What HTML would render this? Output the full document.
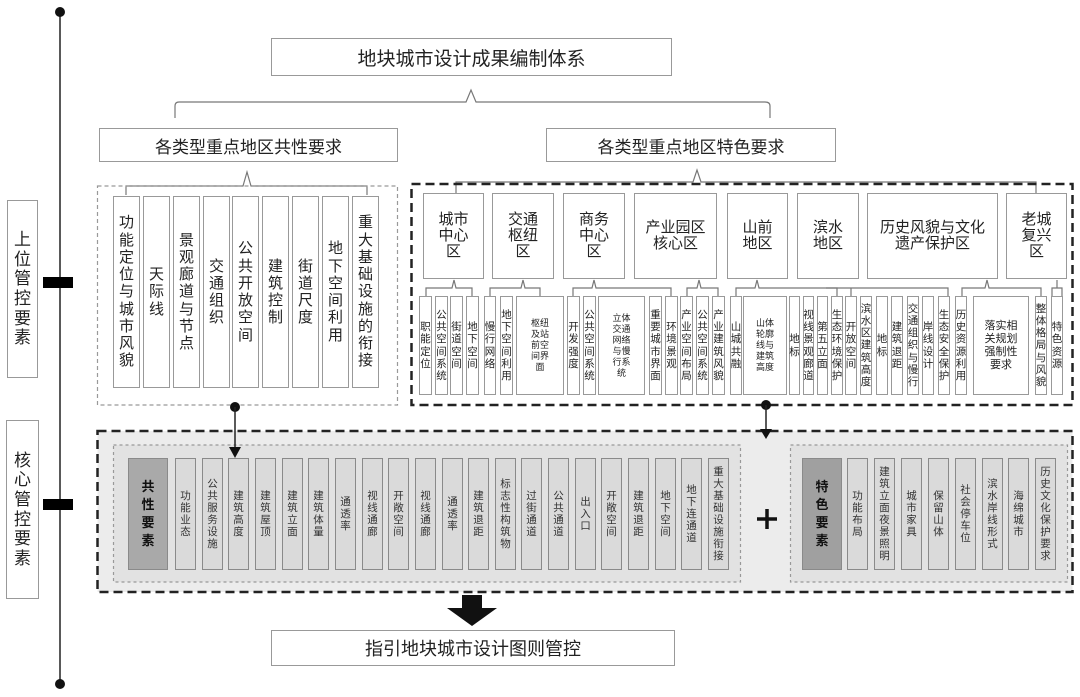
<!DOCTYPE html>
<html><head><meta charset="utf-8"><style>
body{margin:0;width:1080px;height:697px;background:#fff;position:relative;overflow:hidden;font-family:"Liberation Sans","Noto Sans CJK SC",sans-serif;color:#222}
.b{position:absolute;box-sizing:border-box;border:1.5px solid #999;background:#fff;display:flex;align-items:center;justify-content:center;text-align:center}
.v span{display:block;width:1em;word-break:break-all;line-height:1.15;white-space:normal}
.c{font-size:15px;line-height:16px}
.s{font-size:10.5px;line-height:12px;border-width:1px}
.k{font-size:10.5px;background:#dadada;border:1.5px solid #8a8a8a;top:458px;height:112px;width:21px;color:#333}
.h{font-size:9px;line-height:11px}
</style></head><body>
<svg width="1080" height="697" style="position:absolute;left:0;top:0" fill="none" stroke="#777" stroke-width="1.2">
<line x1="60" y1="12" x2="60" y2="684" stroke="#222" stroke-width="1.5"/>
<circle cx="60" cy="12" r="5" fill="#111" stroke="none"/>
<circle cx="60" cy="684" r="5" fill="#111" stroke="none"/>
<rect x="43" y="277" width="30" height="11" fill="#000" stroke="none"/>
<rect x="43" y="499" width="30" height="11" fill="#000" stroke="none"/>
<path d="M175,118 V106 Q175,102 179,102 H466 L471,90 L476,102 H765 Q770,102 770,106 V118"/>
<path d="M126,195 V186 H243 L247,172 L251,186 H367 V195"/>
<path d="M456,193 V182 H693 L697,170 L701,182 H1036 V193"/>
<path d="M426,296 V288 H452 L454,280 L456,288 H472 V296"/>
<path d="M490,296 V288 H521 L523,280 L525,288 H540 V296"/>
<path d="M573,296 V288 H592 L594,280 L596,288 H671 V296"/>
<path d="M687,296 V288 H697 L699,280 L701,288 H718 V296"/>
<path d="M736,296 V288 H755 L757,280 L759,288 H837 V296"/>
<path d="M851,296 V288 H826 M851,288 H948 V296 M851,288 L853,288"/>
<path d="M962,296 V288 H985 L987,280 L989,288 H1041 V296"/>
<path d="M1052,296 V288 H1062 V296 M1057,288 V280"/>
<rect x="97.5" y="186" width="300" height="219" stroke="#999" stroke-dasharray="4,3"/>
<rect x="411.5" y="184" width="661" height="221" stroke="#222" stroke-width="2.5" stroke-dasharray="9,5"/>
<rect x="97.5" y="431" width="975" height="161" fill="#ececec" stroke="#222" stroke-width="2.5" stroke-dasharray="9,5"/>
<rect x="113.5" y="445" width="627" height="137" fill="#e2e2e2" stroke="#999" stroke-dasharray="3,3"/>
<rect x="790.5" y="445" width="277" height="137" fill="#e2e2e2" stroke="#999" stroke-dasharray="3,3"/>
<circle cx="235" cy="407" r="5" fill="#111" stroke="none"/>
<line x1="235" y1="407" x2="235" y2="448" stroke="#222" stroke-width="1.5"/>
<polygon points="229,447 241,447 235,458" fill="#111" stroke="none"/>
<circle cx="766" cy="405" r="5" fill="#111" stroke="none"/>
<line x1="766" y1="405" x2="766" y2="430" stroke="#222" stroke-width="1.5"/>
<polygon points="760,429 772,429 766,439" fill="#111" stroke="none"/>
<polygon points="462,595 482,595 482,608 497,608 472,626 447,608 462,608" fill="#111" stroke="none"/>
<path d="M767,509 V529 M757,519 H777" stroke="#111" stroke-width="3.5"/>
</svg>

<div class="b v c" style="left:7px;top:200px;width:31px;height:178px;font-size:17px"><span>上位管控要素</span></div>
<div class="b v c" style="left:6px;top:420px;width:33px;height:179px;font-size:17px"><span>核心管控要素</span></div>

<div class="b" style="left:271px;top:38px;width:401px;height:38px;font-size:19px">地块城市设计成果编制体系</div>
<div class="b" style="left:99px;top:128px;width:299px;height:34px;font-size:17px">各类型重点地区共性要求</div>
<div class="b" style="left:546px;top:128px;width:290px;height:34px;font-size:17px">各类型重点地区特色要求</div>
<div class="b" style="left:271px;top:630px;width:404px;height:36px;font-size:18px">指引地块城市设计图则管控</div>

<div class="b v c" style="left:113px;top:196px;width:27px;height:192px"><span>功能定位与城市风貌</span></div>
<div class="b v c" style="left:143px;top:196px;width:27px;height:192px"><span>天际线</span></div>
<div class="b v c" style="left:173px;top:196px;width:27px;height:192px"><span>景观廊道与节点</span></div>
<div class="b v c" style="left:203px;top:196px;width:27px;height:192px"><span>交通组织</span></div>
<div class="b v c" style="left:232px;top:196px;width:27px;height:192px"><span>公共开放空间</span></div>
<div class="b v c" style="left:262px;top:196px;width:27px;height:192px"><span>建筑控制</span></div>
<div class="b v c" style="left:292px;top:196px;width:27px;height:192px"><span>街道尺度</span></div>
<div class="b v c" style="left:322px;top:196px;width:27px;height:192px"><span>地下空间利用</span></div>
<div class="b v c" style="left:352px;top:196px;width:27px;height:192px"><span>重大基础设施的衔接</span></div>

<div class="b c" style="left:423px;top:193px;width:61px;height:86px">城市<br>中心<br>区</div>
<div class="b c" style="left:492px;top:193px;width:62px;height:86px">交通<br>枢纽<br>区</div>
<div class="b c" style="left:563px;top:193px;width:62px;height:86px">商务<br>中心<br>区</div>
<div class="b c" style="left:634px;top:193px;width:83px;height:86px">产业园区<br>核心区</div>
<div class="b c" style="left:727px;top:193px;width:61px;height:86px">山前<br>地区</div>
<div class="b c" style="left:797px;top:193px;width:62px;height:86px">滨水<br>地区</div>
<div class="b c" style="left:867px;top:193px;width:131px;height:86px">历史风貌与文化<br>遗产保护区</div>
<div class="b c" style="left:1006px;top:193px;width:61px;height:86px">老城<br>复兴<br>区</div>

<div class="b v s" style="left:419px;top:296px;width:13px;height:99px"><span>职能定位</span></div>
<div class="b v s" style="left:435px;top:296px;width:13px;height:99px"><span>公共空间系统</span></div>
<div class="b v s" style="left:450px;top:296px;width:13px;height:99px"><span>街道空间</span></div>
<div class="b v s" style="left:466px;top:296px;width:13px;height:99px"><span>地下空间</span></div>
<div class="b v s" style="left:484px;top:296px;width:12px;height:99px"><span>慢行网络</span></div>
<div class="b v s" style="left:500px;top:296px;width:13px;height:99px"><span>地下空间利用</span></div>
<div class="b s h" style="left:516px;top:296px;width:48px;height:99px">枢纽<br>及站<br>前空<br>间界<br>面</div>
<div class="b v s" style="left:567px;top:296px;width:13px;height:99px"><span>开发强度</span></div>
<div class="b v s" style="left:583px;top:296px;width:13px;height:99px"><span>公共空间系统</span></div>
<div class="b s h" style="left:598px;top:296px;width:47px;height:99px">立体<br>交通<br>网络<br>与慢<br>行系<br>统</div>
<div class="b v s" style="left:649px;top:296px;width:13px;height:99px"><span>重要城市界面</span></div>
<div class="b v s" style="left:665px;top:296px;width:13px;height:99px"><span>环境景观</span></div>
<div class="b v s" style="left:680px;top:296px;width:13px;height:99px"><span>产业空间布局</span></div>
<div class="b v s" style="left:696px;top:296px;width:13px;height:99px"><span>公共空间系统</span></div>
<div class="b v s" style="left:712px;top:296px;width:13px;height:99px"><span>产业建筑风貌</span></div>
<div class="b v s" style="left:730px;top:296px;width:12px;height:99px"><span>山城共融</span></div>
<div class="b s h" style="left:743px;top:296px;width:44px;height:99px">山体<br>轮廓<br>线与<br>建筑<br>高度</div>
<div class="b v s" style="left:789px;top:296px;width:11px;height:99px"><span>地标</span></div>
<div class="b v s" style="left:803px;top:296px;width:11px;height:99px"><span>视线景观廊道</span></div>
<div class="b v s" style="left:817px;top:296px;width:11px;height:99px"><span>第五立面</span></div>
<div class="b v s" style="left:831px;top:296px;width:12px;height:99px"><span>生态环境保护</span></div>
<div class="b v s" style="left:845px;top:296px;width:12px;height:99px"><span>开放空间</span></div>
<div class="b v s" style="left:860px;top:296px;width:12px;height:99px"><span>滨水区建筑高度</span></div>
<div class="b v s" style="left:876px;top:296px;width:12px;height:99px"><span>地标</span></div>
<div class="b v s" style="left:891px;top:296px;width:12px;height:99px"><span>建筑退距</span></div>
<div class="b v s" style="left:907px;top:296px;width:12px;height:99px"><span>交通组织与慢行</span></div>
<div class="b v s" style="left:922px;top:296px;width:12px;height:99px"><span>岸线设计</span></div>
<div class="b v s" style="left:938px;top:296px;width:12px;height:99px"><span>生态安全保护</span></div>
<div class="b v s" style="left:955px;top:296px;width:12px;height:99px"><span>历史资源利用</span></div>
<div class="b s" style="left:973px;top:296px;width:56px;height:99px;font-size:11px;line-height:13px">落实相<br>关规划<br>强制性<br>要求</div>
<div class="b v s" style="left:1035px;top:296px;width:12px;height:99px"><span>整体格局与风貌</span></div>
<div class="b v s" style="left:1051px;top:296px;width:12px;height:99px"><span>特色资源</span></div>

<div class="b v k" style="left:128px;width:40px;background:#a9a9a9;font-size:13px;font-weight:bold;color:#111"><span style="line-height:1.4">共性要素</span></div>
<div class="b v k" style="left:175px"><span>功能业态</span></div>
<div class="b v k" style="left:202px"><span>公共服务设施</span></div>
<div class="b v k" style="left:228px"><span>建筑高度</span></div>
<div class="b v k" style="left:255px"><span>建筑屋顶</span></div>
<div class="b v k" style="left:282px"><span>建筑立面</span></div>
<div class="b v k" style="left:308px"><span>建筑体量</span></div>
<div class="b v k" style="left:335px"><span>通透率</span></div>
<div class="b v k" style="left:362px"><span>视线通廊</span></div>
<div class="b v k" style="left:388px"><span>开敞空间</span></div>
<div class="b v k" style="left:415px"><span>视线通廊</span></div>
<div class="b v k" style="left:442px"><span>通透率</span></div>
<div class="b v k" style="left:468px"><span>建筑退距</span></div>
<div class="b v k" style="left:495px"><span>标志性构筑物</span></div>
<div class="b v k" style="left:521px"><span>过街通道</span></div>
<div class="b v k" style="left:548px"><span>公共通道</span></div>
<div class="b v k" style="left:575px"><span>出入口</span></div>
<div class="b v k" style="left:601px"><span>开敞空间</span></div>
<div class="b v k" style="left:628px"><span>建筑退距</span></div>
<div class="b v k" style="left:655px"><span>地下空间</span></div>
<div class="b v k" style="left:681px"><span>地下连通道</span></div>
<div class="b v k" style="left:708px"><span>重大基础设施衔接</span></div>

<div class="b v k" style="left:802px;width:40px;background:#a0a0a0;font-size:13px;font-weight:bold;color:#111"><span style="line-height:1.4">特色要素</span></div>
<div class="b v k" style="left:847px"><span>功能布局</span></div>
<div class="b v k" style="left:874px"><span>建筑立面夜景照明</span></div>
<div class="b v k" style="left:901px"><span>城市家具</span></div>
<div class="b v k" style="left:928px"><span>保留山体</span></div>
<div class="b v k" style="left:955px"><span>社会停车位</span></div>
<div class="b v k" style="left:982px"><span>滨水岸线形式</span></div>
<div class="b v k" style="left:1008px"><span>海绵城市</span></div>
<div class="b v k" style="left:1035px"><span>历史文化保护要求</span></div>
</body></html>
